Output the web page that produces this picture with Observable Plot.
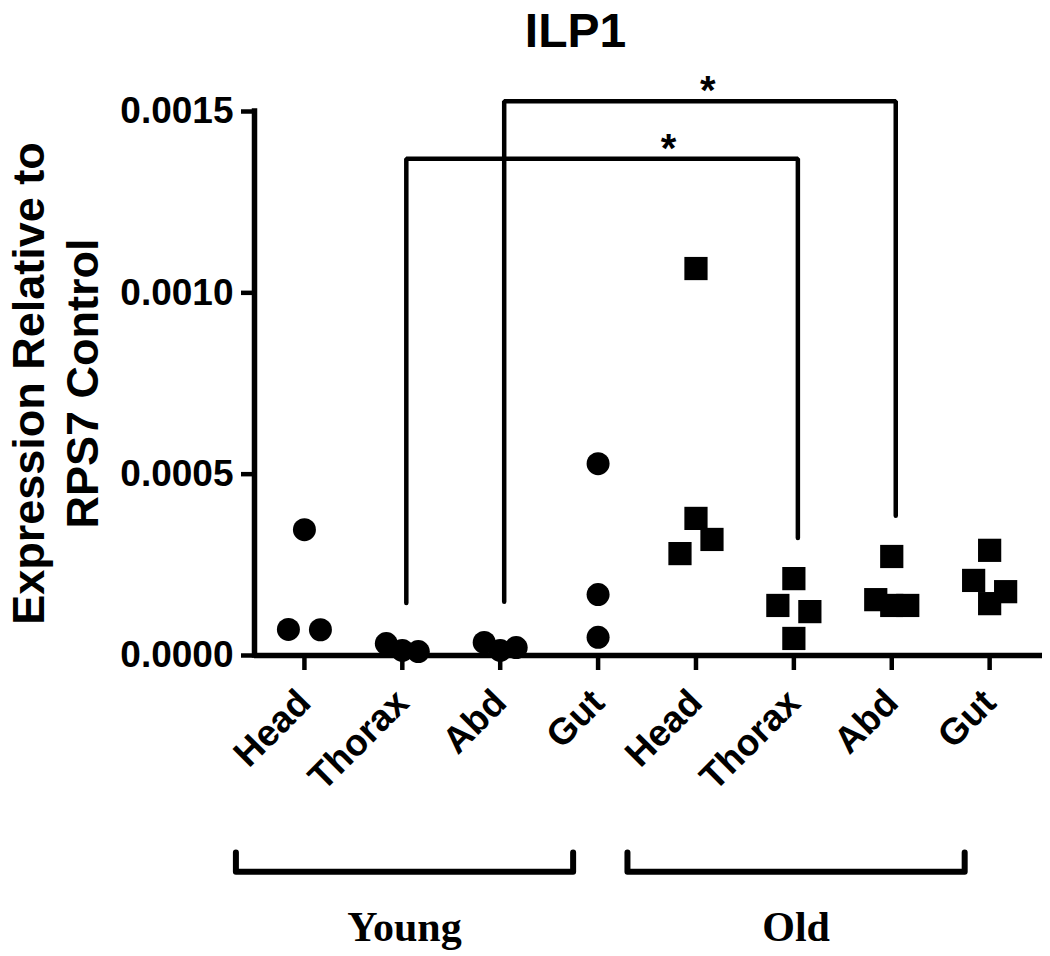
<!DOCTYPE html>
<html><head><meta charset="utf-8">
<script src="https://cdn.jsdelivr.net/npm/d3@7"></script>
<script src="https://cdn.jsdelivr.net/npm/@observablehq/plot@0.6"></script>
<style>body{margin:0;background:#fff}</style>
</head><body><div id="chart"></div>
<script>
// ---- data ----
const tissues = ["Head", "Thorax", "Abd", "Gut"];
const ages = ["Young", "Old"];
const youngHead   = [0.000347, 0.000072, 0.000071];
const youngThorax = [0.000014, 0.000011, 0.000033];
const youngAbd    = [0.000014, 0.000022, 0.000036];
const youngGut    = [0.000529, 0.000168, 0.000050];
const oldHead     = [0.001067, 0.000378, 0.000320, 0.000281];
const oldThorax   = [0.000212, 0.000138, 0.000121, 0.000047];
const oldAbd      = [0.000273, 0.000138, 0.000138, 0.000154];
const oldGut      = [0.000290, 0.000143, 0.000176, 0.000207];
const yTicks = [0, 0.0005, 0.0010, 0.0015];
const comparisons = [
  {from: ["Young", "Thorax"], to: ["Old", "Thorax"], label: "*"},
  {from: ["Young", "Abd"],    to: ["Old", "Abd"],    label: "*"}
];

// ---- layout ----
const W = 1050, H = 956, mL = 254, mR = 8, mT = 111, mB = 301;
const xDomain = [-0.51, 7.54];
const yDomain = [0, 0.0015];
const pxPerCat = (W - mL - mR) / (xDomain[1] - xDomain[0]);
const pxPerVal = (H - mT - mB) / (yDomain[1] - yDomain[0]);
const slotW = 16 / pxPerCat;   // horizontal spread step for overlapping points
const rowGap = 23;             // px: points closer than a marker size share a row

const series = {
  Young: [youngHead, youngThorax, youngAbd, youngGut],
  Old:   [oldHead, oldThorax, oldAbd, oldGut]
};
const catIndex = (age, tissue) => ages.indexOf(age) * tissues.length + tissues.indexOf(tissue);

function scatter(values, ci) {
  const items = values.map((v, k) => ({v, k, slot: 0}));
  const sorted = [...items].sort((a, b) => b.v - a.v);
  const rows = []; let row = [];
  for (const it of sorted) {
    if (row.length && (row[row.length - 1].v - it.v) * pxPerVal >= rowGap) { rows.push(row); row = []; }
    row.push(it);
  }
  rows.push(row);
  for (const r of rows) {
    r.sort((a, b) => a.k - b.k);
    const slots = r.length % 2 ? [0, 1, -1, 2, -2, 3, -3] : [-1, 1, -2, 2, -3, 3];
    r.forEach((it, j) => it.slot = slots[j]);
  }
  return items.map(it => ({value: it.v, x: ci + it.slot * slotW}));
}

const points = [];
for (const age of ages) tissues.forEach((t, j) => {
  const ci = catIndex(age, t);
  for (const p of scatter(series[age][j], ci)) points.push({age, tissue: t, ...p});
});

// significance brackets
const legGap = 0.000112;
const bracketLevels = [0.00137, 0.001528];
const starAt = [3.72, 4.12];
const sigLines = [], sigStars = [];
comparisons.forEach((c, k) => {
  const a = catIndex(...c.from), b = catIndex(...c.to);
  const ya = d3.max(series[c.from[0]][tissues.indexOf(c.from[1])]) + legGap;
  const yb = d3.max(series[c.to[0]][tissues.indexOf(c.to[1])]) + legGap;
  const lv = bracketLevels[k];
  sigLines.push({id: k, x: a, y: ya}, {id: k, x: a, y: lv}, {id: k, x: b, y: lv}, {id: k, x: b, y: yb});
  sigStars.push({x: starAt[k], y: lv, label: c.label});
});

// group brackets under the axis
const gTop = -0.000543, gBot = -0.000596, gLabelY = -0.000786;
const groupLines = [], groupLabels = [];
ages.forEach((age, g) => {
  const first = g * tissues.length, last = first + tissues.length - 1;
  const x1 = first - 0.70, x2 = last - 0.255;
  groupLines.push({age, x: x1, y: gTop}, {age, x: x1, y: gBot}, {age, x: x2, y: gBot}, {age, x: x2, y: gTop});
  groupLabels.push({age, x: (x1 + x2) / 2});
});

const chart = Plot.plot({
  width: W, height: H,
  marginLeft: mL, marginRight: mR, marginTop: mT, marginBottom: mB,
  x: {domain: xDomain},
  y: {domain: yDomain},
  style: {fontFamily: "'Liberation Sans', Arial, sans-serif", fontWeight: "bold", fontSize: "37px", color: "black", background: "white"},
  marks: [
    Plot.ruleY([0], {x1: xDomain[0], x2: xDomain[1], strokeWidth: 5.5}),
    Plot.ruleX([xDomain[0]], {y1: yDomain[0], y2: yDomain[1], strokeWidth: 5.5, strokeLinecap: "square"}),
    Plot.axisY(yTicks, {tickFormat: d3.format(".4f"), tickSize: 13, tickPadding: 8, fontSize: 37, strokeWidth: 4.5, label: null}),
    Plot.axisX(d3.range(ages.length * tissues.length), {
      tickFormat: i => tissues[i % tissues.length], tickRotate: -45,
      tickSize: 15, tickPadding: 26, fontSize: 37, strokeWidth: 4.5, label: null
    }),
    Plot.line(sigLines, {x: "x", y: "y", z: "id", strokeWidth: 4.5, strokeLinejoin: "miter", dx: 4}),
    Plot.text(sigStars, {x: "x", y: "y", text: "label", lineAnchor: "bottom", dy: 3, fontSize: 40}),
    Plot.line(groupLines, {x: "x", y: "y", z: "age", strokeWidth: 6}),
    Plot.text(groupLabels, {x: "x", y: gLabelY, text: "age", lineAnchor: "bottom", fontSize: 42, fontFamily: "'Liberation Serif', 'Times New Roman', serif"}),
    Plot.dot(points.filter(d => d.age === "Young"), {x: "x", y: "value", r: 11.5, symbol: "circle", fill: "black"}),
    Plot.dot(points.filter(d => d.age === "Old"), {x: "x", y: "value", r: 13.1, symbol: "square", fill: "black"}),
    Plot.text(["ILP1"], {frameAnchor: "top-left", dx: 575 - mL, dy: 31 - mT, textAnchor: "middle", lineAnchor: "middle", fontSize: 48}),
    Plot.text(["Expression Relative to\nRPS7 Control"], {frameAnchor: "left", rotate: -90, dx: 53 - mL, textAnchor: "middle", lineAnchor: "middle", lineHeight: 1.2, fontSize: 45})
  ]
});
document.getElementById("chart").appendChild(chart);
</script>
</body></html>
